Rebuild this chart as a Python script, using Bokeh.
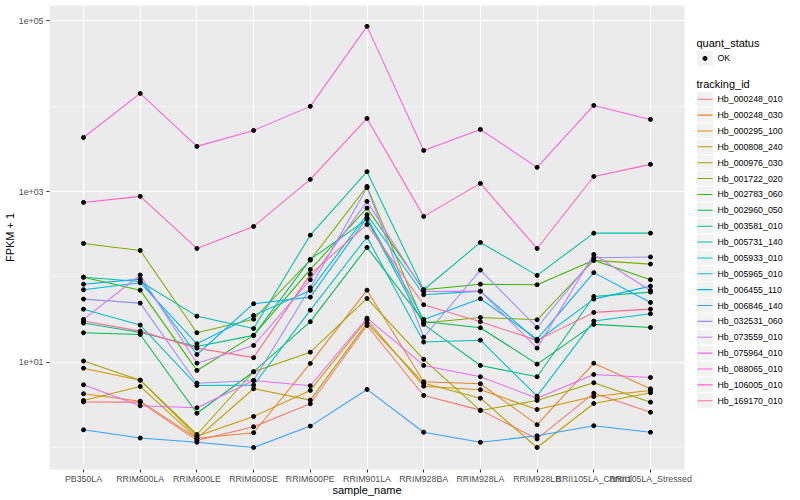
from bokeh.plotting import figure
from bokeh.models import (Range1d, FactorRange, FixedTicker, CustomJSTickFormatter,
                          ColumnDataSource)
from bokeh.core.properties import value
from bokeh.layouts import row
from bokeh.embed import file_html
from bokeh.resources import INLINE

# ---------------- data ----------------
samples = ["PB350LA", "RRIM600LA", "RRIM600LE", "RRIM600SE", "RRIM600PE", "RRIM901LA",
           "RRIM928BA", "RRIM928LA", "RRIM928LB", "RRII105LA_Control", "RRII105LA_Stressed"]

tracking_ids = ["Hb_000248_010", "Hb_000248_030", "Hb_000295_100", "Hb_000808_240",
                "Hb_000976_030", "Hb_001722_020", "Hb_002783_060", "Hb_002960_050",
                "Hb_003581_010", "Hb_005731_140", "Hb_005933_010", "Hb_005965_010",
                "Hb_006455_110", "Hb_006846_140", "Hb_032531_060", "Hb_073559_010",
                "Hb_075964_010", "Hb_088065_010", "Hb_106005_010", "Hb_169170_010"]

quant_status = ["OK"]

# FPKM + 1 per sample (in the order of `samples`)
hb_000248_010 = [3.42, 3.40, 1.21, 1.75, 3.25, 26.9, 4.07, 2.74, 1.26, 4.33, 2.59]
hb_000248_030 = [4.26, 3.49, 1.28, 1.49, 9.66, 69.8, 5.89, 5.58, 1.85, 9.73, 4.88]
hb_000295_100 = [8.5, 6.15, 1.35, 2.31, 4.66, 31.4, 5.23, 4.75, 2.79, 3.96, 4.66]
hb_000808_240 = [3.56, 5.19, 1.28, 4.88, 3.59, 28.7, 5.67, 3.78, 1.0, 3.28, 4.38]
hb_000976_030 = [10.3, 6.15, 1.42, 7.72, 13.1, 55.8, 10.8, 2.71, 3.56, 5.73, 3.40]
hb_001722_020 = [246, 204, 22.1, 31.9, 157, 1148, 28.7, 33.4, 31.4, 156, 141]
hb_002783_060 = [99, 69.8, 8.0, 20.6, 122, 639, 70.6, 82, 80.8, 156, 92.5]
hb_002960_050 = [22.1, 21.1, 2.52, 7.72, 29.8, 221, 30.0, 25.3, 9.48, 27.7, 25.5]
hb_003581_010 = [28.7, 22.3, 15.3, 20.6, 160, 471, 27.7, 9.15, 6.74, 58.9, 66.2]
hb_005731_140 = [99, 88.3, 34.6, 24.8, 308, 1707, 70.6, 253, 104, 325, 325]
hb_005933_010 = [41.8, 27.2, 5.33, 5.38, 40.7, 292, 17.2, 18.1, 4.0, 30.3, 36.9]
hb_005965_010 = [70.6, 85.3, 16.4, 35.3, 69.3, 535, 61.7, 68, 17.7, 54.8, 77.8]
hb_006455_110 = [82, 94, 12.3, 48.4, 57.8, 493, 31.7, 55.4, 18.6, 112, 50.1]
hb_006846_140 = [1.61, 1.29, 1.15, 1.0, 1.78, 4.79, 1.51, 1.15, 1.37, 1.80, 1.51]
hb_032531_060 = [54.8, 49.2, 5.67, 6.1, 74.5, 1109, 19.6, 120, 25.5, 167, 171]
hb_073559_010 = [31.7, 105, 9.73, 15.7, 92.5, 766, 67.4, 68, 14.6, 183, 69.3]
hb_075964_010 = [5.43, 3.08, 2.92, 6.1, 5.29, 32.8, 9.15, 6.74, 3.78, 7.17, 6.62]
hb_088065_010 = [4300, 14100, 3380, 5200, 9950, 86200, 3030, 5340, 1920, 10200, 7000]
hb_106005_010 = [745, 877, 215, 390, 1387, 7190, 511, 1245, 215, 1500, 2080]
hb_169170_010 = [30.3, 23.1, 14.6, 11.3, 107, 411, 47.1, 29.8, 18.0, 38.3, 41.8]

series_values = [hb_000248_010, hb_000248_030, hb_000295_100, hb_000808_240, hb_000976_030,
                 hb_001722_020, hb_002783_060, hb_002960_050, hb_003581_010, hb_005731_140,
                 hb_005933_010, hb_005965_010, hb_006455_110, hb_006846_140, hb_032531_060,
                 hb_073559_010, hb_075964_010, hb_088065_010, hb_106005_010, hb_169170_010]

colors = ["#F8766D", "#EA8331", "#D89000", "#C09B00", "#A3A500", "#7CAE00", "#39B600",
          "#00BB4E", "#00BF7D", "#00C1A3", "#00BFC4", "#00BAE0", "#00B0F6", "#35A2FF",
          "#9590FF", "#C77CFF", "#E76BF3", "#FA62DB", "#FF62BC", "#FF6C91"]

y_major = [10, 1000, 100000]
y_minor = [1, 100, 10000]

FONT = "Liberation Sans"
H = 500

# ---------------- main plot ----------------
p = figure(width=692, height=H,
           x_range=FactorRange(factors=samples, range_padding=0.1, range_padding_units="absolute"),
           y_axis_type="log", y_range=Range1d(10 ** -0.258, 10 ** 5.18),
           output_backend="svg", toolbar_location=None,
           min_border_left=42, min_border_right=8, min_border_top=5, min_border_bottom=31)

p.background_fill_color = "#EBEBEB"
p.border_fill_color = "white"
p.outline_line_color = None

for tid, vals, c in zip(tracking_ids, series_values, colors):
    src = ColumnDataSource(dict(sample=samples, fpkm=vals))
    p.line(x="sample", y="fpkm", source=src, line_color=c, line_width=1.07)

for tid, vals in zip(tracking_ids, series_values):
    src = ColumnDataSource(dict(sample=samples, fpkm=vals))
    p.scatter(x="sample", y="fpkm", source=src, marker="circle", size=4,
              fill_color="black", line_color="black")

p.yaxis.ticker = FixedTicker(ticks=y_major, minor_ticks=y_minor)
p.yaxis.formatter = CustomJSTickFormatter(code="""
const e = Math.round(Math.log10(tick));
const a = Math.abs(e);
return "1e" + (e < 0 ? "-" : "+") + (a < 10 ? "0" + a : "" + a);
""")

p.xgrid.grid_line_color = "white"
p.xgrid.grid_line_width = 1.07
p.ygrid.grid_line_color = "white"
p.ygrid.grid_line_width = 1.07
p.ygrid.minor_grid_line_color = "white"
p.ygrid.minor_grid_line_width = 0.53

for ax in (p.xaxis[0], p.yaxis[0]):
    ax.axis_line_color = None
    ax.major_tick_line_color = "#333333"
    ax.major_tick_line_width = 1.07
    ax.major_tick_out = 3
    ax.major_tick_in = 0
    ax.minor_tick_line_color = None
    ax.major_label_text_color = "#4D4D4D"
    ax.major_label_text_font = FONT
    ax.major_label_text_font_size = "8.8px"
    ax.axis_label_text_font = FONT
    ax.axis_label_text_font_size = "11px"
    ax.axis_label_text_font_style = "normal"
    ax.axis_label_text_color = "black"

p.xaxis.axis_label = "sample_name"
p.yaxis.axis_label = "FPKM + 1"
p.xaxis.major_label_standoff = 1
p.xaxis.axis_label_standoff = -3
p.yaxis.major_label_standoff = 2
p.yaxis.axis_label_standoff = 0

# ---------------- legend panel (guide drawn in pixel units) ----------------
LW = 108
pl = figure(width=LW, height=H, x_range=Range1d(0, LW), y_range=Range1d(H, 0),
            output_backend="svg", toolbar_location=None,
            x_axis_location=None, y_axis_location=None, min_border=0)
pl.grid.visible = False
pl.outline_line_color = None
pl.background_fill_color = "white"
pl.border_fill_color = "white"

key_x, key_w, lab_x = 12.5, 17.3, 25
title_font = dict(text_font=value(FONT), text_font_size="11px", text_color="black",
                  text_baseline="middle", text_align="left")
label_font = dict(text_font=value(FONT), text_font_size="8.8px", text_color="black",
                  text_baseline="middle", text_align="left")

# quant_status guide
pl.text(x=[4], y=[40.7], text=["quant_status"], **title_font)
ok_y = [57.0]
pl.rect(x=[key_x], y=ok_y, width=key_w, height=key_w, fill_color="#F2F2F2",
        line_color="white", line_width=1)
pl.scatter(x=[key_x], y=ok_y, marker="circle", size=4, fill_color="black", line_color="black")
pl.text(x=[lab_x], y=ok_y, text=quant_status, **label_font)

# tracking_id guide
pl.text(x=[4], y=[84.3], text=["tracking_id"], **title_font)
item_y = [101.0 + 17.1 * i for i in range(len(tracking_ids))]
pl.rect(x=[key_x] * len(item_y), y=item_y, width=key_w, height=key_w,
        fill_color="#F2F2F2", line_color="white", line_width=1)
pl.segment(x0=[key_x - 7.5] * len(item_y), x1=[key_x + 7.5] * len(item_y),
           y0=item_y, y1=item_y, line_color=colors, line_width=1.07)
pl.text(x=[lab_x] * len(item_y), y=item_y, text=tracking_ids, **label_font)

layout = row(p, pl)
open("out.html", "w").write(file_html(layout, INLINE))
